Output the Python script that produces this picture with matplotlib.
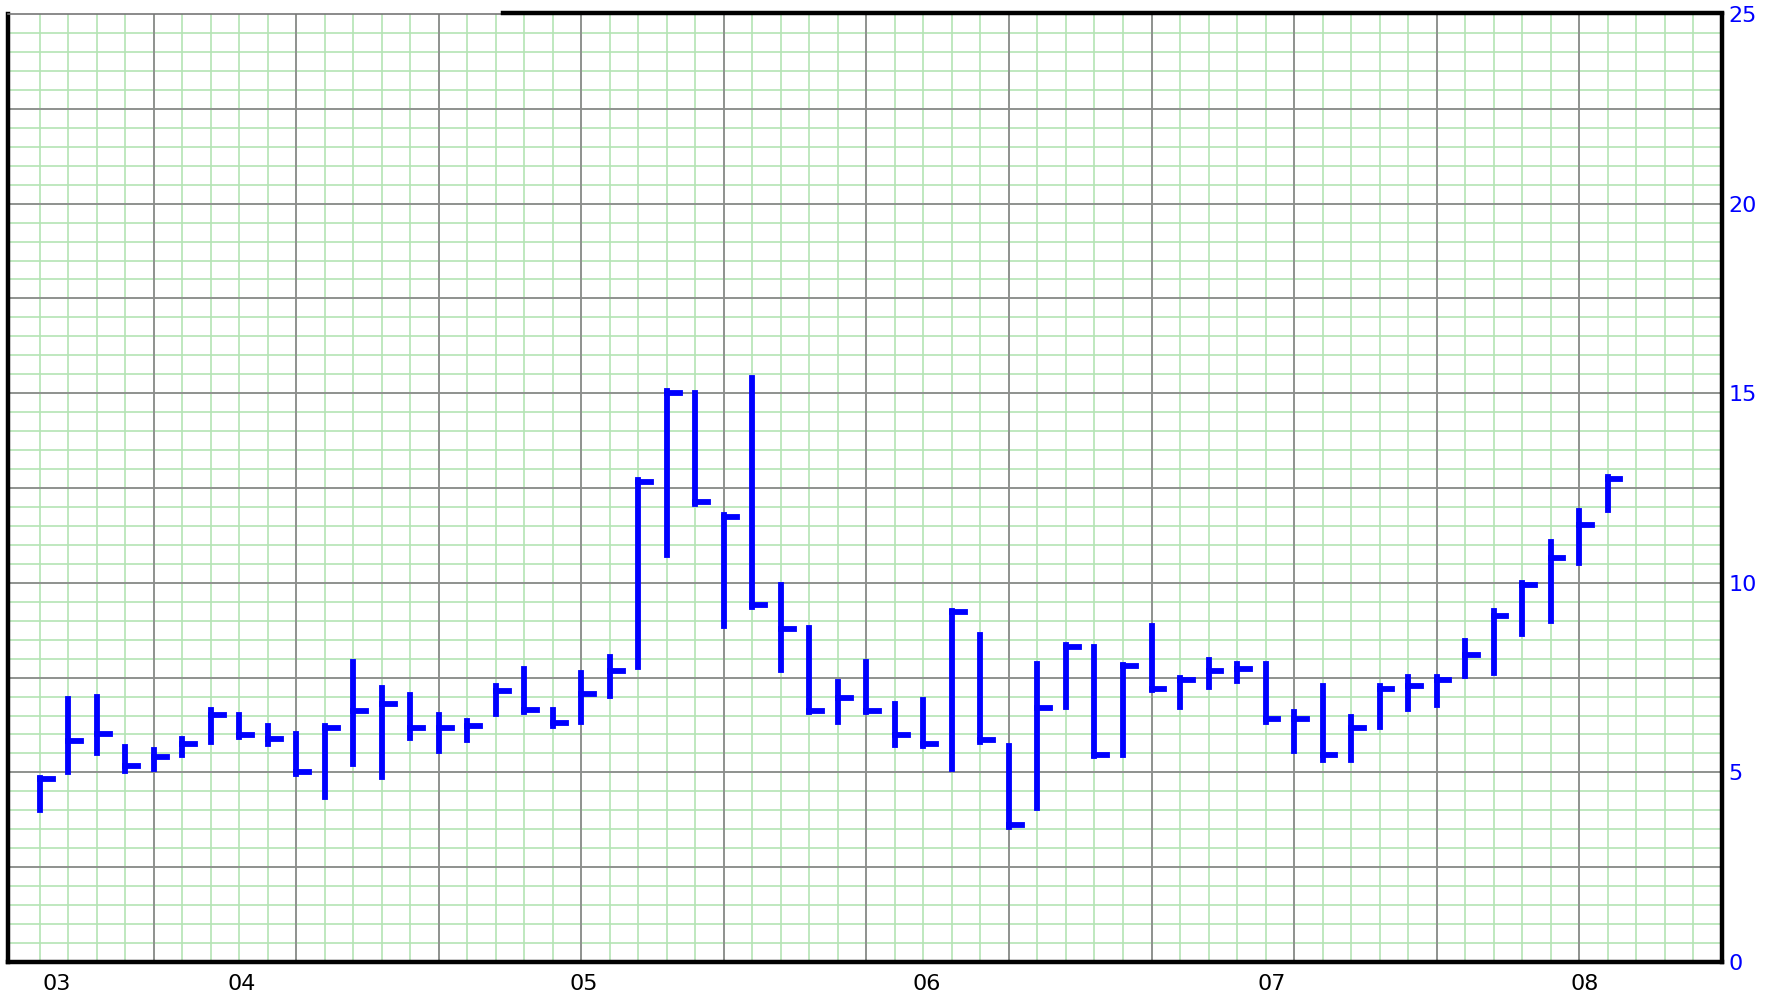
import numpy as np
import matplotlib
matplotlib.use("Agg")
import matplotlib.pyplot as plt
from matplotlib.transforms import blended_transform_factory

# monthly bars: high / low / close
highs = [4.85, 6.93, 6.98, 5.66, 5.60, 5.88, 6.65, 6.52, 6.23, 6.00,
         6.22, 7.92, 7.22, 7.04, 6.52, 6.36, 7.29, 7.74, 6.64, 7.62,
         8.04, 12.70, 15.05, 15.00, 11.79, 15.41, 9.95, 8.80, 7.38, 7.90,
         6.80, 6.92, 9.26, 8.63, 5.70, 7.85, 8.35, 8.30, 7.84, 8.86,
         7.49, 7.97, 7.86, 7.86, 6.58, 7.28, 6.47, 7.27, 7.52, 7.52,
         8.46, 9.26, 9.99, 11.07, 11.89, 12.79]
lows = [4.00, 5.00, 5.50, 5.03, 5.10, 5.46, 5.81, 5.94, 5.74, 4.96,
        4.36, 5.22, 4.88, 5.92, 5.57, 5.85, 6.55, 6.58, 6.22, 6.32,
        7.01, 7.77, 10.73, 12.07, 8.87, 9.35, 7.70, 6.60, 6.32, 6.58,
        5.73, 5.70, 5.10, 5.80, 3.57, 4.05, 6.72, 5.42, 5.45, 7.17,
        6.73, 7.24, 7.42, 6.34, 5.57, 5.34, 5.34, 6.21, 6.67, 6.79,
        7.54, 7.61, 8.66, 9.00, 10.51, 11.91]
closes = [4.83, 5.83, 6.00, 5.18, 5.41, 5.76, 6.52, 5.99, 5.88, 5.00,
          6.17, 6.63, 6.81, 6.17, 6.16, 6.22, 7.15, 6.64, 6.30, 7.06,
          7.67, 12.66, 15.00, 12.14, 11.74, 9.41, 8.78, 6.62, 6.97, 6.63,
          5.98, 5.75, 9.24, 5.86, 3.61, 6.69, 8.32, 5.47, 7.81, 7.20,
          7.44, 7.68, 7.73, 6.40, 6.40, 5.47, 6.17, 7.20, 7.28, 7.45,
          8.09, 9.13, 9.94, 10.66, 11.53, 12.73]

year_labels = ['03', '04', '05', '06', '07', '08']
year_pos = [0.6, 7.1, 19.1, 31.1, 43.2, 54.2]
y_ticks = [0, 5, 10, 15, 20, 25]

x = np.arange(len(highs))

fig = plt.figure(figsize=(17.74, 10.05), dpi=100)
ax = fig.add_axes([0.0047, 0.0428, 0.9658, 0.9432])
ax.set_xlim(-1.1, 59.0)
ax.set_ylim(0, 25)

# graph paper grid
green = '#b4e4b4'
for gx in np.arange(0, 59):
    ax.axvline(gx, color=green, lw=1.2, zorder=1)
for gy in np.arange(0.5, 25, 0.5):
    ax.axhline(gy, color=green, lw=1.2, zorder=1)
for gx in np.arange(4, 59, 5):
    ax.axvline(gx, color='#8c8c8c', lw=1.3, zorder=2)
for gy in np.arange(2.5, 25, 2.5):
    ax.axhline(gy, color='#8c8c8c', lw=1.3, zorder=2)

# high-low bars with close tick
ax.vlines(x, lows, highs, color='#0000ff', lw=4.2, zorder=3, capstyle='projecting')
ax.hlines(closes, x, x + 0.45, color='#0000ff', lw=4.2, zorder=3, capstyle='projecting')

# axes frame
for s in ['left', 'bottom', 'right']:
    ax.spines[s].set_linewidth(3.2)
    ax.spines[s].set_color('black')
ax.spines['top'].set_visible(False)
ax.plot([0, 0.289], [1, 1], transform=ax.transAxes, color='#777777', lw=1.2, clip_on=False, zorder=5)
ax.plot([0.289, 1], [1.001, 1.001], transform=ax.transAxes, color='black', lw=3.2, clip_on=False, zorder=5)

ax.set_xticks([])
ax.yaxis.tick_right()
ax.set_yticks(y_ticks)
ax.set_yticklabels([str(v) for v in y_ticks])
ax.tick_params(axis='y', length=0, pad=5, labelcolor='#0000ff', labelsize=16)

trans = blended_transform_factory(ax.transData, ax.transAxes)
for lab, pos in zip(year_labels, year_pos):
    ax.text(pos, -0.023, lab, transform=trans, ha='center', va='center', fontsize=16, color='black')

fig.savefig('out.png', dpi=100)
